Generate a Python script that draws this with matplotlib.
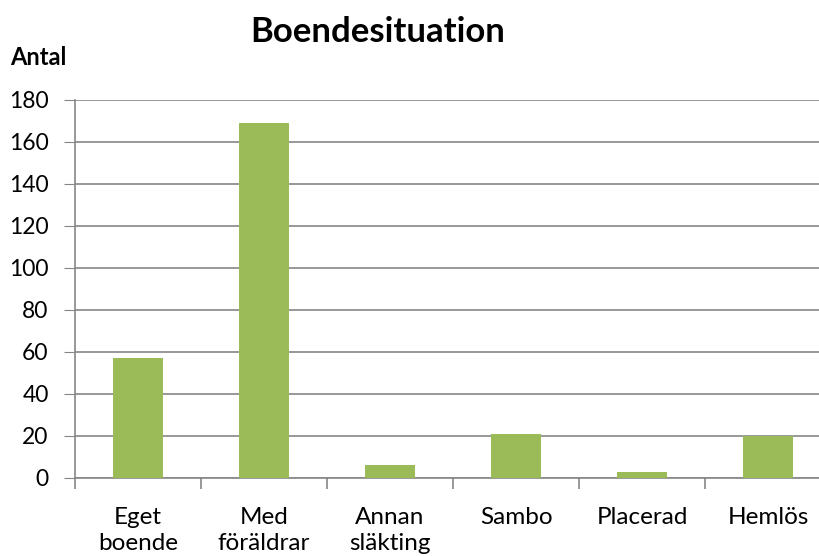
import matplotlib.pyplot as plt
import numpy as np

categories = ["Eget\nboende", "Med\nföräldrar", "Annan\nsläkting", "Sambo", "Placerad", "Hemlös"]
values = [57, 169, 6, 21, 3, 20]
yticks = [0, 20, 40, 60, 80, 100, 120, 140, 160, 180]

plt.rcParams['font.family'] = ['Lato', 'DejaVu Sans']

fig = plt.figure(figsize=(8.2, 5.56), dpi=100)
ax = fig.add_axes([0.0915, 0.1403, 0.922, 0.680])

x = np.arange(len(values))
ax.bar(x, values, width=0.4, color="#9BBB59", zorder=3)

ax.set_xlim(-0.5, len(values) - 0.5)
ax.set_ylim(0, 180)
ax.set_yticks(yticks)
ax.tick_params(axis='y', labelsize=16.5, length=8, color="#868686", pad=11)
ax.yaxis.grid(True, color="#868686", linewidth=1.2, zorder=0)

ax.set_xticks(x)
ax.set_xticklabels(categories, fontsize=17.5, linespacing=1.3)
ax.tick_params(axis='x', which='major', length=0, pad=21)
ax.set_xticks(np.arange(len(values)) - 0.5, minor=True)
ax.tick_params(axis='x', which='minor', length=8, color="#868686", width=1.2)

for side in ['top', 'right']:
    ax.spines[side].set_visible(False)
for side in ['left', 'bottom']:
    ax.spines[side].set_color("#868686")
    ax.spines[side].set_linewidth(1.2)

fig.text(0.461, 0.943, "Boendesituation", fontsize=25, fontweight='bold', ha='center', va='center')
fig.text(0.012, 0.897, "Antal", fontsize=17, fontweight='bold', ha='left', va='center')

fig.savefig("out.png", dpi=100)
